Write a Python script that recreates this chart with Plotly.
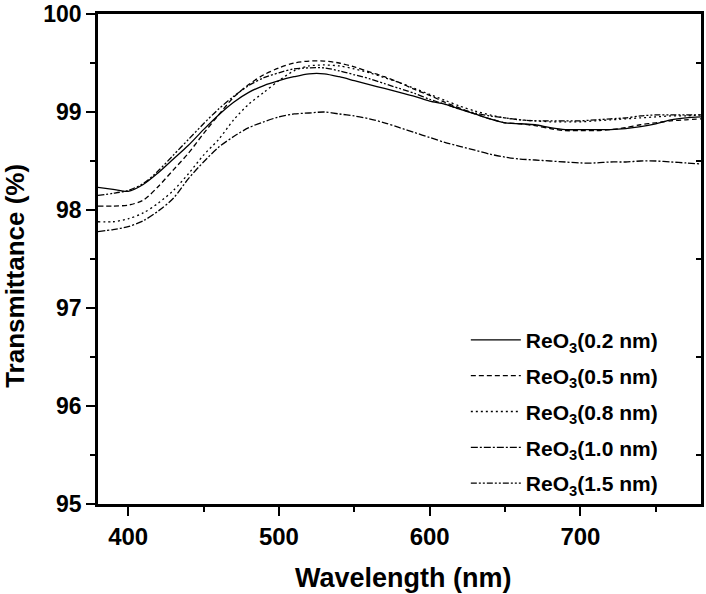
import plotly.graph_objects as go

wavelength = [380, 390, 400, 410, 420, 430, 440, 450, 460, 470, 480, 490, 500, 510, 520, 530, 540,
              550, 560, 570, 580, 590, 600, 610, 620, 630, 640, 650, 660, 670, 680, 690, 700, 710,
              720, 730, 740, 750, 760, 770, 780]

t_02 = [98.23, 98.21, 98.19, 98.26, 98.38, 98.52, 98.66, 98.82, 98.97, 99.10, 99.20, 99.27, 99.32,
        99.36, 99.39, 99.39, 99.36, 99.32, 99.28, 99.24, 99.20, 99.16, 99.11, 99.08, 99.03, 98.98,
        98.93, 98.89, 98.88, 98.87, 98.84, 98.82, 98.82, 98.82, 98.82, 98.83, 98.85, 98.88, 98.92,
        98.94, 98.95]
t_05 = [98.04, 98.04, 98.05, 98.10, 98.24, 98.41, 98.58, 98.78, 98.97, 99.15, 99.28, 99.38, 99.45,
        99.50, 99.52, 99.52, 99.50, 99.46, 99.41, 99.36, 99.30, 99.23, 99.17, 99.10, 99.04, 98.98,
        98.93, 98.89, 98.88, 98.86, 98.83, 98.81, 98.81, 98.81, 98.82, 98.84, 98.87, 98.89, 98.91,
        98.92, 98.93]
t_08 = [97.88, 97.88, 97.91, 97.97, 98.07, 98.20, 98.37, 98.56, 98.72, 98.92, 99.08, 99.20, 99.32,
        99.42, 99.47, 99.48, 99.47, 99.44, 99.40, 99.35, 99.30, 99.24, 99.18, 99.12, 99.06, 99.01,
        98.97, 98.94, 98.92, 98.91, 98.90, 98.90, 98.90, 98.91, 98.92, 98.93, 98.94, 98.95, 98.96,
        98.96, 98.97]
t_10 = [97.78, 97.80, 97.83, 97.89, 97.99, 98.12, 98.32, 98.49, 98.64, 98.75, 98.84, 98.90, 98.95,
        98.98, 98.99, 99.00, 98.98, 98.96, 98.93, 98.89, 98.84, 98.79, 98.74, 98.69, 98.65, 98.61,
        98.57, 98.54, 98.52, 98.51, 98.50, 98.49, 98.48, 98.48, 98.49, 98.49, 98.50, 98.50, 98.49,
        98.48, 98.47]
t_15 = [98.15, 98.17, 98.20, 98.27, 98.40, 98.56, 98.72, 98.88, 99.03, 99.16, 99.27, 99.35, 99.40,
        99.44, 99.45, 99.45, 99.42, 99.38, 99.34, 99.29, 99.24, 99.19, 99.13, 99.08, 99.03, 98.99,
        98.96, 98.94, 98.92, 98.91, 98.91, 98.91, 98.91, 98.92, 98.93, 98.94, 98.96, 98.97, 98.97,
        98.97, 98.97]

series_names = ["ReO<sub>3</sub>(0.2 nm)", "ReO<sub>3</sub>(0.5 nm)", "ReO<sub>3</sub>(0.8 nm)",
                "ReO<sub>3</sub>(1.0 nm)", "ReO<sub>3</sub>(1.5 nm)"]
series_values = [t_02, t_05, t_08, t_10, t_15]
dashes = ["solid", "5px,3px", "2px,3px", "7px,2px,2px,2px", "6px,2px,2px,2px,2px,2px"]

x_title = "Wavelength (nm)"
y_title = "Transmittance (%)"

FONT = "Liberation Sans, Arial, sans-serif"

fig = go.Figure()
for i, (name, vals, d) in enumerate(zip(series_names, series_values, dashes)):
    fig.add_trace(go.Scatter(
        x=wavelength, y=vals, mode="lines", name=name, legendgroup=f"g{i}",
        line=dict(color="black", width=1.3, dash=d, shape="spline", smoothing=0.8),
    ))
# empty helper trace so the right-hand (mirror) axis with its inner minor ticks is drawn
fig.add_trace(go.Scatter(x=[], y=[], yaxis="y2", showlegend=False, hoverinfo="skip"))

fig.update_layout(
    width=706, height=594,
    margin=dict(l=98, r=5, t=14, b=90),
    paper_bgcolor="white", plot_bgcolor="white",
    font=dict(family=FONT, color="black", weight="bold"),
    showlegend=True,
    legend=dict(
        x=0.610, y=0.376, xanchor="left", yanchor="top",
        bgcolor="rgba(0,0,0,0)", borderwidth=0,
        font=dict(family=FONT, size=21, color="black", weight="bold"),
        itemwidth=50, tracegroupgap=5.5,
    ),
    xaxis=dict(
        range=[380, 780], tick0=400, dtick=100, automargin=False, ticklabeloverflow="allow",
        showline=True, linecolor="black", linewidth=2.5, mirror=True,
        ticks="outside", ticklen=9, tickwidth=2, tickcolor="black",
        minor=dict(ticks="outside", ticklen=5, tickwidth=2, tickcolor="black", dtick=50, tick0=400),
        showgrid=False, zeroline=False,
        tickfont=dict(family=FONT, size=24, color="black", weight="bold"),
    ),
    yaxis=dict(
        range=[95, 100], dtick=1, automargin=False, ticklabeloverflow="allow",
        showline=True, linecolor="black", linewidth=2.5, mirror=True,
        ticks="outside", ticklen=9, tickwidth=2, tickcolor="black",
        minor=dict(ticks="outside", ticklen=5, tickwidth=2, tickcolor="black", dtick=0.5),
        showgrid=False, zeroline=False,
        tickfont=dict(family=FONT, size=23, color="black", weight="bold"),
    ),
    yaxis2=dict(
        range=[95, 100], overlaying="y", side="right", automargin=False,
        tickvals=[95.5, 96.5, 97.5, 98.5, 99.5], ticks="inside", ticklen=5, tickwidth=2,
        tickcolor="black", showticklabels=False, showgrid=False, zeroline=False, showline=False,
    ),
    annotations=[
        dict(text=x_title, xref="paper", yref="paper", x=0.506, y=-0.151,
             xanchor="center", yanchor="middle", showarrow=False,
             font=dict(family=FONT, size=27, color="black", weight="bold")),
        dict(text=y_title, xref="paper", yref="paper", x=-0.139, y=0.466, textangle=-90,
             xanchor="center", yanchor="middle", showarrow=False,
             font=dict(family=FONT, size=26, color="black", weight="bold")),
    ],
)

# remove the default 8px page margin so the 706x594 figure fills the window exactly
fig.write_html("out.html",
               config={"displayModeBar": False},
               post_script="document.body.style.margin='0';document.body.style.overflow='hidden';")
